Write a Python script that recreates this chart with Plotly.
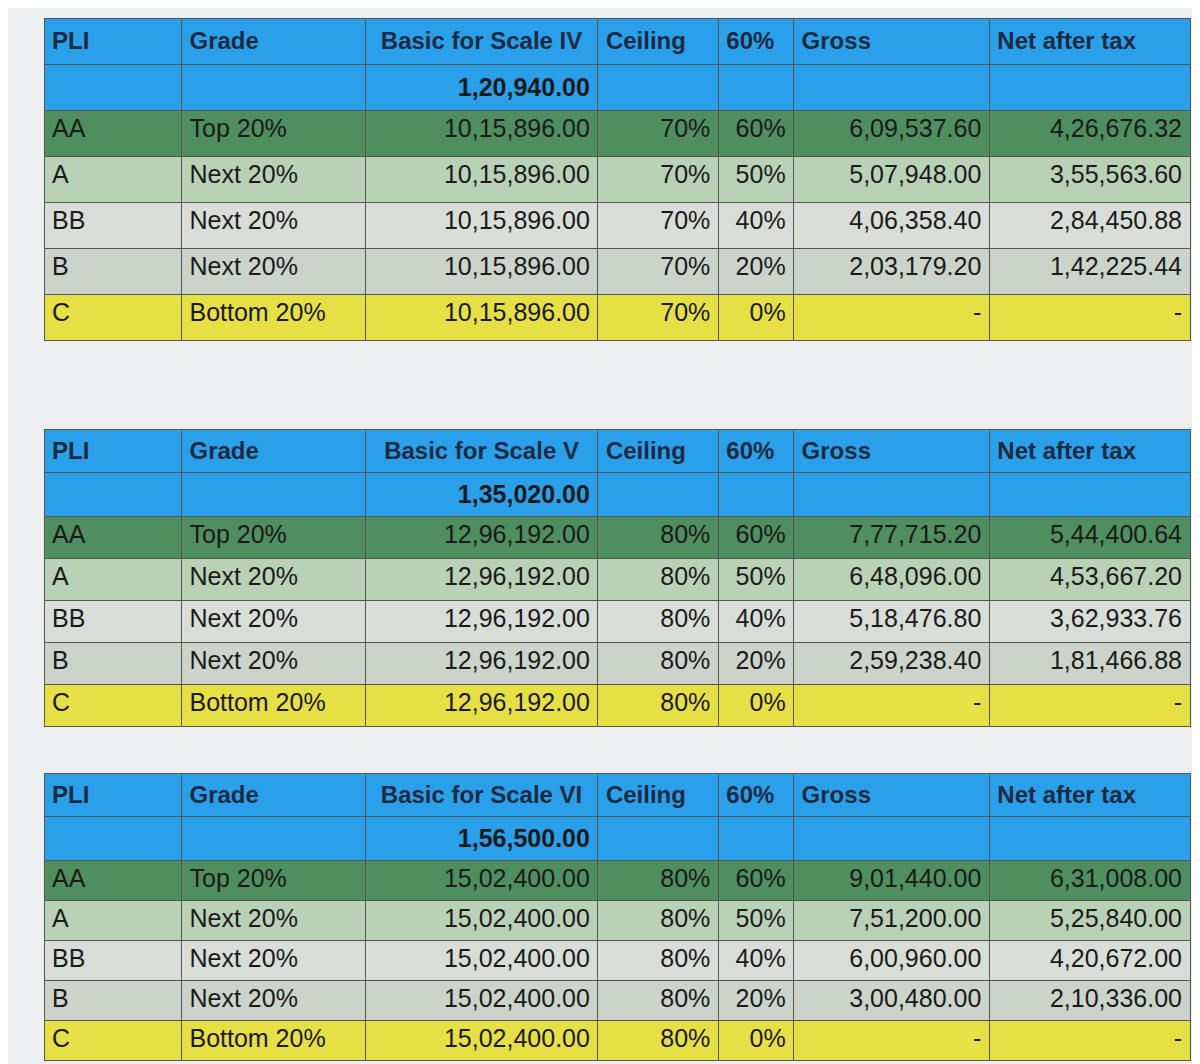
import plotly.graph_objects as go

pli = ["AA", "A", "BB", "B", "C"]
grades = ["Top 20%", "Next 20%", "Next 20%", "Next 20%", "Bottom 20%"]
factor = ["60%", "50%", "40%", "20%", "0%"]

scale_names = ["Basic for Scale IV", "Basic for Scale V", "Basic for Scale VI"]
scale_basic = ["1,20,940.00", "1,35,020.00", "1,56,500.00"]
basic_vals = ["10,15,896.00", "12,96,192.00", "15,02,400.00"]
ceilings = ["70%", "80%", "80%"]
gross_vals = [
    ["6,09,537.60", "5,07,948.00", "4,06,358.40", "2,03,179.20", "-"],
    ["7,77,715.20", "6,48,096.00", "5,18,476.80", "2,59,238.40", "-"],
    ["9,01,440.00", "7,51,200.00", "6,00,960.00", "3,00,480.00", "-"],
]
net_vals = [
    ["4,26,676.32", "3,55,563.60", "2,84,450.88", "1,42,225.44", "-"],
    ["5,44,400.64", "4,53,667.20", "3,62,933.76", "1,81,466.88", "-"],
    ["6,31,008.00", "5,25,840.00", "4,20,672.00", "2,10,336.00", "-"],
]

BLUE = "#2AA0EA"
row_fills = [BLUE, "#4F8E5E", "#B9D2B6", "#D9DDD8", "#CBD3CA", "#E6E044"]
domains = [(0.676, 0.99), (0.318, 0.604), (0.01, 0.281)]
heights = [46, 42, 40]
widths = [137, 183, 232, 120, 75, 195, 200]

fig = go.Figure()
for i in range(3):
    cols = [
        [""] + pli,
        [""] + grades,
        ["<b>" + scale_basic[i] + "</b>"] + [basic_vals[i]] * 5,
        [""] + [ceilings[i]] * 5,
        [""] + factor,
        [""] + gross_vals[i],
        [""] + net_vals[i],
    ]
    fills = [row_fills] * 7
    fig.add_trace(go.Table(
        domain=dict(x=[0.03, 0.985], y=list(domains[i])),
        columnwidth=widths,
        header=dict(
            values=["<b>PLI</b>", "<b>Grade</b>", "<b>" + scale_names[i] + "</b>",
                    "<b>Ceiling</b>", "<b>60%</b>", "<b>Gross</b>", "<b>Net after tax</b>"],
            fill_color=BLUE, line_color="#555", height=heights[i],
            align=["left", "left", "center", "left", "left", "left", "left"],
            font=dict(family="Liberation Sans", size=24, color="#1d2a40"),
        ),
        cells=dict(
            values=cols, fill_color=fills, line_color="#555", height=heights[i],
            align=["left", "left", "right", "right", "right", "right", "right"],
            font=dict(family="Liberation Sans", size=25, color="#1a1a1a"),
        ),
    ))

fig.update_layout(width=1200, height=1064, margin=dict(l=0, r=0, t=0, b=0),
                  paper_bgcolor="#ECEEEF")
fig.write_html("out.html")
